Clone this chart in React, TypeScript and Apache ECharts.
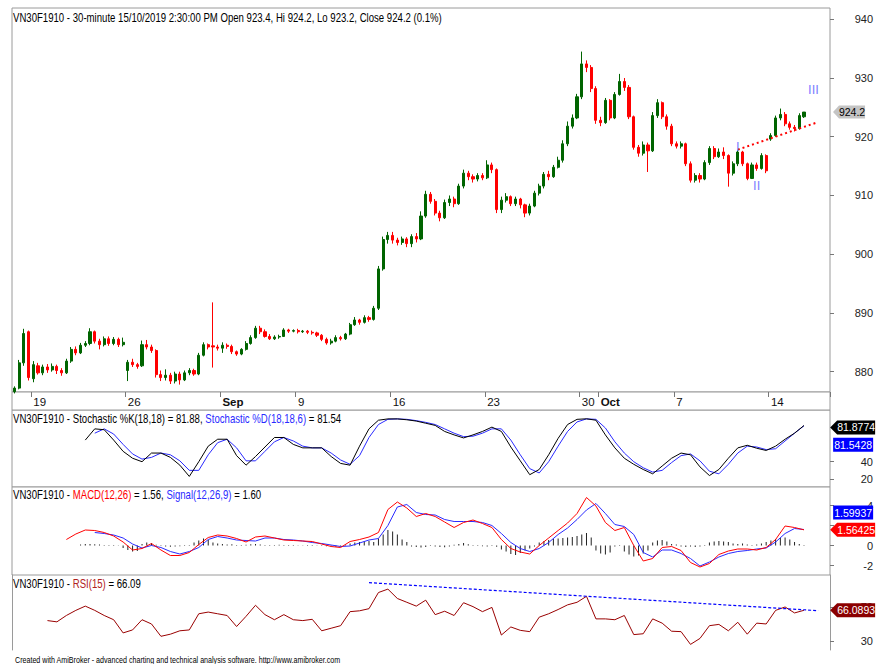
import React, { useEffect, useRef } from 'react';
import * as echarts from 'echarts';

const FONT = '"Liberation Sans", Arial, sans-serif';
const TITLE_SCALE = 0.8;

// ---- time axis ----
const dayNames = ['16','19','20','21','22','23','26','27','28','29','30','Sep','4','5','6','9','10','11','12','13',
  '16','17','18','19','20','23','24','25','26','27','30','Oct','2','3','4','7','8','9','10','11','14','15'];
const labeledDays = [1, 6, 11, 15, 20, 25, 30, 31, 35, 40];
const boldDays = ['Sep', 'Oct'];
const BARS_PER_DAY = 4;
const BLANK_BARS = 5;

// ---- price bars: [open, close, low, high] ----
const candles = [
  [876.6,877.2,876.3,877.5],[877.2,881.5,877.0,882.0],[881.5,886.5,881.0,887.3],[886.8,879.0,878.5,887.0],
  [878.8,881.2,878.2,881.8],[881.0,879.8,879.5,881.5],[879.8,880.8,879.4,881.2],[880.8,880.3,879.8,881.3],
  [880.3,880.9,880.0,881.4],[880.9,880.2,879.6,881.2],[880.2,879.8,879.3,880.6],[879.8,881.8,879.6,882.2],
  [881.8,883.8,881.5,884.2],[883.8,883.2,882.8,884.3],[883.2,884.5,883.0,884.9],[884.5,884.8,884.2,885.2],
  [884.8,886.8,884.5,887.4],[886.8,885.2,884.8,887.0],[885.2,884.6,883.8,885.6],[884.6,885.6,884.3,886.0],
  [885.6,884.8,884.4,886.0],[884.8,885.5,884.5,885.9],[885.5,884.6,884.2,885.8],[884.6,885.0,884.3,885.8],
  [880.2,881.6,878.4,882.0],[881.6,881.2,880.8,882.2],[881.2,880.9,880.5,881.5],[881.0,884.6,880.8,885.3],
  [884.6,884.2,883.8,885.4],[884.2,883.6,883.2,884.6],[883.6,879.5,879.0,883.8],[879.5,879.0,878.4,880.2],
  [879.0,879.4,878.5,880.4],[879.4,878.4,877.9,879.8],[878.4,879.6,878.0,880.0],[879.6,878.6,877.8,880.0],
  [878.6,879.8,878.4,880.2],[879.8,880.2,879.4,880.6],[880.2,879.6,879.3,880.5],[879.6,882.8,879.4,883.2],
  [882.8,884.6,882.6,885.0],[884.6,884.2,883.8,884.8],[884.4,884.2,880.7,891.8],[884.2,884.0,883.6,884.6],
  [884.0,884.5,883.2,885.0],[884.5,884.3,883.9,884.8],[884.3,883.4,883.0,884.6],[883.4,883.0,882.7,883.6],
  [883.0,883.8,882.8,884.0],[883.8,884.8,883.6,885.2],[884.8,885.8,884.6,886.2],[885.8,887.4,885.6,887.8],
  [887.4,886.8,886.4,887.8],[886.8,886.0,885.8,887.2],[886.0,885.6,885.4,886.4],[885.6,885.9,885.4,886.2],
  [885.9,886.0,885.6,886.3],[886.0,887.1,885.9,887.4],[887.1,886.9,886.6,887.3],[886.9,887.0,886.7,887.2],
  [887.0,886.8,886.5,887.3],[886.8,886.9,886.6,887.1],[886.9,886.7,886.4,887.1],[886.7,886.6,886.3,887.0],
  [886.6,886.2,885.9,886.8],[886.2,885.5,885.2,886.4],[885.5,884.9,884.6,885.8],[884.9,885.2,884.6,885.6],
  [885.2,885.8,885.0,886.2],[885.8,885.6,885.3,886.1],[885.6,886.4,885.4,886.6],[886.4,888.0,886.2,888.3],
  [888.0,888.8,887.8,889.3],[888.8,888.4,888.0,889.0],[888.4,889.2,888.2,889.6],[889.2,888.9,888.5,889.5],
  [888.9,890.8,888.7,891.2],[890.8,897.5,890.5,898.0],[897.5,902.5,897.2,903.0],[902.5,903.2,901.8,903.8],
  [903.2,902.4,901.8,903.8],[902.4,902.0,901.5,902.8],[902.0,902.6,901.6,903.0],[902.6,901.8,901.2,902.9],
  [901.8,903.0,901.2,903.4],[903.0,902.6,902.0,903.6],[902.6,906.5,902.4,907.3],[906.5,910.2,906.2,910.8],
  [910.2,909.0,908.6,910.6],[909.0,907.0,906.6,909.4],[907.0,906.2,905.6,907.4],[906.2,908.8,906.0,909.3],
  [908.8,909.4,908.2,910.0],[909.4,908.6,908.0,909.8],[908.6,911.6,908.4,912.0],[911.6,913.8,911.2,914.4],
  [913.8,913.2,912.6,914.2],[913.2,912.8,912.2,913.6],[912.8,913.4,912.4,913.8],[913.4,913.0,912.6,913.8],
  [913.0,915.2,912.8,916.0],[915.2,914.4,913.8,915.6],[914.4,907.6,907.0,914.6],[907.6,909.2,907.0,909.8],
  [909.2,909.8,908.8,910.4],[909.8,908.6,908.2,910.0],[908.6,909.4,908.2,909.8],[909.4,908.4,907.8,909.6],
  [908.4,907.0,906.3,908.6],[907.0,908.2,906.6,908.6],[908.2,910.4,908.0,910.8],[910.4,911.6,910.0,912.0],
  [911.6,913.6,911.2,914.0],[913.6,913.2,912.6,914.2],[913.2,914.8,913.0,915.2],[914.8,916.0,914.6,916.6],
  [916.0,918.8,915.6,919.4],[918.8,921.8,918.4,922.6],[921.8,923.2,921.4,923.8],[923.2,926.8,923.0,927.3],
  [926.8,932.4,926.4,934.5],[932.4,931.8,931.0,933.0],[931.8,928.2,927.6,932.2],[928.2,922.8,922.2,928.6],
  [922.8,922.4,921.8,923.4],[922.4,926.2,922.2,926.6],[926.2,923.2,922.8,926.4],[923.2,927.2,923.0,927.6],
  [927.2,929.4,927.0,930.7],[929.4,928.4,927.8,930.0],[928.4,923.4,923.0,928.8],[923.4,918.2,917.8,923.6],
  [918.2,917.2,916.6,918.6],[917.2,918.6,916.8,919.2],[918.6,917.6,914.0,919.0],[917.6,923.6,917.4,924.2],
  [923.6,925.8,923.2,926.4],[925.8,923.4,923.0,926.0],[923.4,921.8,921.2,923.8],[921.8,918.8,918.4,922.2],
  [918.8,918.4,918.0,919.2],[918.4,918.8,918.0,919.2],[918.8,915.4,915.0,919.0],[915.4,912.6,912.2,915.8],
  [912.6,913.4,912.2,913.8],[913.4,912.8,912.2,913.8],[912.8,915.6,912.6,916.0],[915.6,918.0,915.2,918.4],
  [918.0,916.6,916.2,918.4],[916.6,917.4,916.4,918.0],[917.4,916.8,916.2,918.2],[916.8,913.8,911.5,917.0],
  [913.8,915.4,913.4,915.8],[915.4,917.4,915.0,917.8],[917.4,915.4,915.0,917.6],[915.4,912.9,912.6,915.6],
  [912.9,915.2,912.8,915.6],[915.2,914.6,914.2,915.6],[914.6,916.8,914.4,917.2],[916.8,914.2,913.8,917.0],
  [919.6,920.2,919.3,920.6],[920.2,923.2,920.0,923.6],[923.2,923.8,922.8,924.8],[923.8,922.2,921.8,924.2],
  [922.2,921.6,921.2,922.6],[921.6,921.4,920.9,922.0],[921.4,923.6,921.2,924.0],[923.4,924.2,923.2,924.2],
];

// ---- indicators, read every second bar (point k sits on bar 2k+1) ----
const stochK = [
  null,null,null,null,null,null,null,65,78,77,
  65,52,44,40,50,50,45,36,23,40,
  58,66,66,47,36,46,57,68,68,60,
  56,56,56,46,38,36,58,78,88,89.5,
  89.5,88.5,87,84.5,82,75,71,67.5,71,75,
  80,75,57,41,25,31,48,67,83,89,
  89.6,88,71,56,44,37,31,26,35,44,
  50,48,34,24,31,44,56,59,55.6,53,
  58,66,73,81.8774,
];
const stochD = [
  null,null,null,null,null,null,null,null,73,78,
  72,60,49,43,45,50,48,41,30,30,
  48,62,66,56,41,41,52,63,68,64,
  58,56,56,50,42,37,47,68,83,89,
  89.5,89,87.5,85.5,83,78,73,69,69.5,73,
  78,78,65,48,32,27,40,58,75,86,
  89.5,89,79,63,50,40,33,28,30,39,
  47,49,41,29,26,37,50,58,57,54,
  55,64,73,81.5428,
];
const macd = [
  null,null,null,null,null,0.6,1.15,1.55,1.5,1.3,
  0.95,0.35,-0.45,-0.3,0.2,-0.45,-1.0,-1.0,-0.7,0.1,
  0.8,1.05,0.95,0.7,0.35,0.85,0.95,0.75,0.55,0.5,
  0.45,0.4,0.15,-0.1,-0.2,0.4,0.6,0.85,1.3,3.6,
  4.35,3.75,2.9,3.2,2.9,2.35,1.8,2.3,2.55,2.2,
  1.8,0.6,-0.3,-0.65,-0.85,0,0.75,1.5,2.25,3.2,
  4.8,3.95,2.3,1.5,1.8,0,-1.55,-1.3,-0.2,-0.1,
  -0.5,-1.7,-2.15,-1.8,-0.9,-0.55,-0.35,-0.35,-0.45,-0.2,
  0.6,1.95,1.8,1.56425,
];
const signal = [
  null,null,null,null,null,null,null,null,1.3,1.2,
  1.05,0.75,0.15,-0.25,0.0,-0.2,-0.6,-0.85,-0.6,-0.2,
  0.6,0.9,0.75,0.55,0.5,0.45,0.75,0.75,0.6,0.55,
  0.45,0.3,0.2,0.05,-0.1,-0.05,0.25,0.55,0.7,2.0,
  3.85,4.1,3.3,3.1,3.05,2.6,2.4,2.4,2.4,2.3,
  2.0,1.2,0.3,-0.3,-0.6,-0.3,0.3,1.1,1.75,2.6,
  3.55,4.2,3.2,2.1,1.9,1.1,-0.7,-1.15,-0.45,-0.45,
  -0.8,-1.3,-2.05,-1.65,-1.15,-0.8,-0.6,-0.5,-0.35,-0.25,
  0.35,1.2,1.7,1.59937,
];
// MACD histogram, one value per price bar
const macdHist = [
  null,null,null,null,null,null,null,null,null,null,null,null,null,null,
  0.1,0.15,0.15,0.12,0.1,0.06,0.05,0.04,0.02,-0.25,-0.45,-0.6,-0.55,0.15,0.3,0.25,
  0.08,-0.05,-0.1,-0.12,-0.1,-0.08,-0.05,0.05,0.3,0.5,0.7,0.55,0.3,0.2,0.15,0.1,0.12,0.05,
  -0.05,0.08,0.12,0.15,0.1,0.05,-0.04,0.05,0.08,0.05,0.06,0.04,
  0.03,-0.03,0.04,0.05,0.03,-0.05,-0.08,-0.1,-0.12,-0.1,0.05,
  0.2,0.3,0.35,0.4,0.45,0.35,0.7,1.1,1.55,1.4,1.1,0.6,0.35,
  -0.1,-0.15,-0.2,-0.15,0.05,-0.1,-0.15,-0.18,
  -0.1,0.08,0.15,0.25,0.12,-0.05,0.05,-0.08,-0.1,-0.05,-0.12,
  -0.4,-0.6,-0.85,-0.95,-0.75,-0.5,-0.3,-0.1,
  0.3,0.45,0.55,0.65,0.7,0.75,0.8,0.85,0.95,1.1,1.25,0.8,
  -0.5,-0.8,-0.9,-0.7,-0.1,-0.05,-0.6,-0.9,-1.1,-1.0,-0.8,-0.5,
  0.3,0.5,0.55,0.4,0.15,0.1,-0.1,-0.15,-0.1,-0.15,-0.1,0.05,
  0.3,0.4,0.45,0.4,0.35,0.2,0.15,0.2,0.1,0.05,0.1,
  0.2,0.35,0.5,0.65,0.75,0.8,0.6,0.35,0.15,0.05,
];
const rsi = [
  null,null,null,54,52.5,60,66,71,66,60,
  55,39.5,43,55,50,35.5,38,42,43,62,
  64,62,60,47,59,72,61,55,61,55,
  54,55.5,42,45,48,64.5,65.5,68,87,91,
  80,75.5,71,78,61,65,60,75,70.4,64.5,
  69.5,37,46.5,42.5,41,58,62,67,72.5,75.5,
  82.5,56,56,55,60,37.5,38.5,56,51,41.5,
  41,26,33,48,49.5,42,52,38,51,50,
  66,70,63,66.0893,
];

// ---- annotations ----
const priceTrend = { bars: [153, 170], values: [917.8, 922.5] };
const rsiTrend = { bars: [75, 170], values: [98.6, 65.6] };
const waveLabels = [
  { text: 'I', bar: 153, value: 918.4 },
  { text: 'II', bar: 157, value: 911.7 },
  { text: 'III', bar: 169, value: 928.0 },
];

// ---- axis ticks & ranges ----
const priceTicks = [880, 890, 900, 910, 920, 930, 940];
const stochTicks = [20, 40];
const macdTicks = [-2, 0, 2, 4];
const macdLabels = [-2, 0, 4];
const rsiTicks = [30, 70];
const priceRange = [876.54, 941.92];
const stochRange = [10.75, 99.8];
const macdRange = [-2.95, 5.85];
const rsiRange = [19.4, 107.6];

const N_BARS = candles.length;
const categories = Array.from({ length: N_BARS + BLANK_BARS }, (_, i) => String(i));
const LAST_CAT = categories.length - 1;
const labelAt = (i: number) => {
  if (i % BARS_PER_DAY !== 0 || i >= N_BARS) return '';
  const d = i / BARS_PER_DAY;
  return labeledDays.includes(d) ? dayNames[d] : '';
};
const toPoints = (arr: (number | null)[]) =>
  arr.map((v, k) => (v == null ? null : [2 * k + 1, v])).filter((p) => p !== null);
const lastOf = (arr: (number | null)[]) => arr[arr.length - 1] as number;

const ARROW_BOX = 'path://M0,7L7,0H45V14H7Z';
const PLAIN_BOX = 'path://M0,0H40V14H0Z';

const boxPoint = (value: number, text: string, color: string, textColor: string, arrow: boolean, dy: number) => ({
  coord: [LAST_CAT, value],
  symbol: arrow ? ARROW_BOX : PLAIN_BOX,
  symbolSize: arrow ? [45, 14] : [40, 14],
  symbolOffset: [arrow ? 25 : 25.5, dy],
  itemStyle: { color },
  label: {
    show: true, position: 'inside', formatter: text, color: textColor,
    fontSize: 10.5, fontFamily: FONT, offset: [arrow ? 3.5 : 0, 0],
  },
});

const App: React.FC = () => {
  const ref = useRef<HTMLDivElement>(null);

  useEffect(() => {
    if (!ref.current) return;
    const chart = echarts.init(ref.current, null, { renderer: 'svg' });
    const last = candles[candles.length - 1];
    const border = '#9a9a9a';
    const tickColor = '#777';
    const gridBase = { left: 12, right: 61, outerBoundsMode: 'none', containLabel: false, borderColor: border, borderWidth: 1, backgroundColor: '#fff' };

    const hiddenX = (gridIndex: number) => ({ type: 'category', gridIndex, data: categories, boundaryGap: true, show: false });
    const rightY = (gridIndex: number, range: number[], ticks: number[], labels: number[], showLine = false) => ({
      type: 'value', gridIndex, position: 'right', min: range[0], max: range[1],
      splitLine: { show: false },
      axisLine: { show: showLine, lineStyle: { color: border } },
      axisTick: { show: true, length: 4, customValues: ticks, lineStyle: { color: tickColor } },
      axisLabel: { show: true, customValues: labels, align: 'right', margin: 43, fontSize: 11, fontFamily: FONT, color: '#222' },
    });

    const seg = (fill: string, size = 12) => ({ fill, fontSize: size, fontFamily: FONT });
    const titleText = (y: number, text: string, rich: any, size = 12) => ({
      type: 'text', x: 13, y, scaleX: TITLE_SCALE, silent: true, z: 10,
      style: { text, fill: '#000', fontSize: size, fontFamily: FONT, verticalAlign: 'middle', align: 'left', rich },
    });

    const option: any = {
      animation: false,
      backgroundColor: '#fff',
      graphic: [
        titleText(18, `VN30F1910 - 30-minute 15/10/2019 2:30:00 PM Open ${last[0]}, Hi ${last[3]}, Lo ${last[2]}, Close ${last[1]} (0.1%)`, undefined),
        titleText(419, `{a|VN30F1910 - Stochastic %K(18,18) = ${lastOf(stochK).toFixed(2)}, }{b|Stochastic %D(18,18,6)}{a| = ${lastOf(stochD).toFixed(2)}}`,
          { a: seg('#000'), b: seg('#2a2aff') }),
        titleText(495, `{a|VN30F1910 - }{r|MACD(12,26)}{a| = ${lastOf(macd).toFixed(2)}, }{b|Signal(12,26,9)}{a| = ${lastOf(signal).toFixed(2)}}`,
          { a: seg('#000'), r: seg('#ff0000'), b: seg('#2a2aff') }),
        titleText(584, `{a|VN30F1910 - }{r|RSI(15)}{a| = ${lastOf(rsi).toFixed(2)}}`,
          { a: seg('#000'), r: seg('#b02020') }),
        {
          type: 'text', x: 15, y: 660, scaleX: 0.82, silent: true,
          style: { text: 'Created with AmiBroker - advanced charting and technical analysis software. http://www.amibroker.com',
            fill: '#000', fontSize: 8.7, fontFamily: FONT, verticalAlign: 'middle', align: 'left' },
        },
      ],
      grid: [
        { ...gridBase, top: 8, height: 384, show: true },
        { ...gridBase, top: 410, height: 77, show: true },
        { ...gridBase, top: 487, height: 88, show: true },
        { ...gridBase, top: 575, height: 75, show: false },
        { ...gridBase, top: 392, height: 18, show: true },
      ],
      xAxis: [
        {
          type: 'category', gridIndex: 0, data: categories, boundaryGap: true,
          axisLine: { show: false },
          axisTick: { show: true, interval: (i: number) => labelAt(i) !== '', length: 5, lineStyle: { color: tickColor } },
          axisLabel: {
            show: true, interval: (i: number) => labelAt(i) !== '',
            formatter: (v: string) => { const s = labelAt(Number(v)); return boldDays.includes(s) ? `{b|${s}}` : s; },
            align: 'left', margin: 4, fontSize: 11.5, fontFamily: FONT, color: '#111',
            rich: { b: { fontSize: 11.5, fontFamily: FONT, color: '#111', fontWeight: 'bold' } },
          },
        },
        hiddenX(1), hiddenX(2), hiddenX(3), hiddenX(4),
      ],
      yAxis: [
        rightY(0, priceRange, priceTicks, priceTicks),
        rightY(1, stochRange, stochTicks, stochTicks),
        rightY(2, macdRange, macdTicks, macdLabels),
        rightY(3, rsiRange, rsiTicks, rsiTicks, true),
        { type: 'value', gridIndex: 4, min: 0, max: 1, show: false },
        { type: 'value', gridIndex: 3, position: 'left', min: rsiRange[0], max: rsiRange[1],
          axisLine: { show: true, lineStyle: { color: border } }, axisTick: { show: false }, axisLabel: { show: false }, splitLine: { show: false } },
      ],
      series: [
        {
          type: 'candlestick', xAxisIndex: 0, yAxisIndex: 0, data: candles, barWidth: 2.6,
          itemStyle: { color: '#006400', color0: '#ff0000', borderColor: '#006400', borderColor0: '#ff0000', borderWidth: 1 },
          markLine: {
            silent: true, symbol: ['none', 'none'], label: { show: false },
            lineStyle: { color: '#ff0000', type: [2, 3], width: 2 },
            data: [[{ coord: [priceTrend.bars[0], priceTrend.values[0]] }, { coord: [priceTrend.bars[1], priceTrend.values[1]] }]],
          },
          markPoint: {
            silent: true,
            data: [
              ...waveLabels.map((w) => ({
                coord: [w.bar, w.value], symbol: 'rect', symbolSize: 1, itemStyle: { color: 'rgba(0,0,0,0)' },
                label: { show: true, position: 'inside', formatter: w.text, color: '#8080ff', fontSize: 13, fontFamily: FONT },
              })),
              {
                coord: [LAST_CAT, last[1]], symbol: 'path://M0,6.5L6,0H32V13H6Z', symbolSize: [32, 13], symbolOffset: [21.4, 0],
                itemStyle: { color: '#c4c4c4' },
                label: { show: true, position: 'inside', offset: [3, 0], formatter: String(last[1]), color: '#000', fontSize: 10.5, fontFamily: FONT },
              },
            ],
          },
        },
        {
          type: 'line', xAxisIndex: 1, yAxisIndex: 1, data: toPoints(stochK), symbol: 'none',
          lineStyle: { color: '#000', width: 1 }, z: 4,
          markPoint: { silent: true, data: [boxPoint(lastOf(stochK), lastOf(stochK).toFixed(4), '#000', '#fff', true, 2)] },
        },
        {
          type: 'line', xAxisIndex: 1, yAxisIndex: 1, data: toPoints(stochD), symbol: 'none',
          lineStyle: { color: '#2a2aff', width: 1 }, z: 3,
          markPoint: { silent: true, data: [boxPoint(lastOf(stochD), lastOf(stochD).toFixed(4), '#0000ff', '#fff', false, 19)] },
        },
        {
          type: 'bar', xAxisIndex: 2, yAxisIndex: 2, data: macdHist, barWidth: 1,
          itemStyle: { color: '#222' },
        },
        {
          type: 'line', xAxisIndex: 2, yAxisIndex: 2, data: toPoints(macd), symbol: 'none',
          lineStyle: { color: '#ff0000', width: 1 }, z: 4,
          markPoint: { silent: true, data: [boxPoint(lastOf(macd), lastOf(macd).toFixed(5), '#ff0000', '#fff', true, 0)] },
        },
        {
          type: 'line', xAxisIndex: 2, yAxisIndex: 2, data: toPoints(signal), symbol: 'none',
          lineStyle: { color: '#2a2aff', width: 1 }, z: 3,
          markPoint: { silent: true, data: [boxPoint(lastOf(signal), lastOf(signal).toFixed(5), '#0000ff', '#fff', false, -17)] },
        },
        {
          type: 'line', xAxisIndex: 3, yAxisIndex: 3, data: toPoints(rsi), symbol: 'none',
          lineStyle: { color: '#990000', width: 1 },
          markLine: {
            silent: true, symbol: ['none', 'none'], label: { show: false },
            lineStyle: { color: '#0000ff', type: [3, 2], width: 1.2 },
            data: [[{ coord: [rsiTrend.bars[0], rsiTrend.values[0]] }, { coord: [rsiTrend.bars[1], rsiTrend.values[1]] }]],
          },
          markPoint: { silent: true, data: [boxPoint(lastOf(rsi), lastOf(rsi).toFixed(4), '#8b0000', '#fff', true, 0)] },
        },
      ],
    };

    chart.setOption(option);
    return () => chart.dispose();
  }, []);

  return <div ref={ref} style={{ position: 'absolute', left: 0, top: 0, width: 891, height: 664, background: '#fff' }} />;
};

export default App;
